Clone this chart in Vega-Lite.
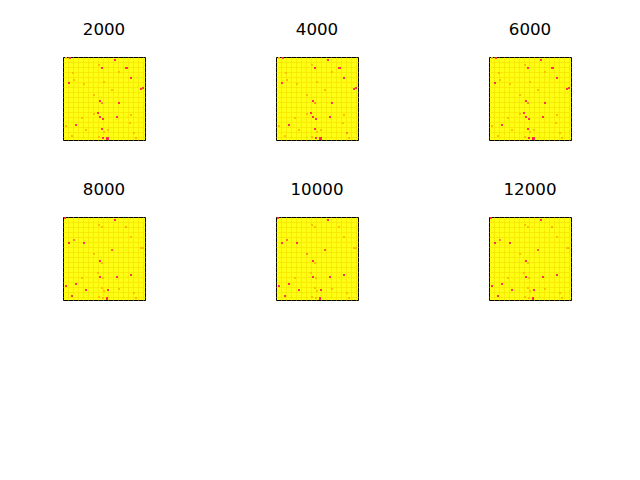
{
  "$schema": "https://vega.github.io/schema/vega-lite/v6.json",
  "background": "white",
  "padding": {"left": 62, "top": 21, "right": 5, "bottom": 5},
  "data": {"values": [
    {"t":2000,"x":7,"y":1,"v":1},{"t":2000,"x":3,"y":1,"v":0.35},{"t":2000,"x":52,"y":3,"v":1},{"t":2000,"x":36,"y":8,"v":0.35},{"t":2000,"x":39,"y":11,"v":1},{"t":2000,"x":63,"y":11,"v":1},{"t":2000,"x":64,"y":11,"v":1},{"t":2000,"x":56,"y":15,"v":0.35},{"t":2000,"x":10,"y":16,"v":0.35},{"t":2000,"x":68,"y":21,"v":1},{"t":2000,"x":11,"y":23,"v":0.35},{"t":2000,"x":6,"y":26,"v":1},{"t":2000,"x":21,"y":27,"v":0.35},{"t":2000,"x":41,"y":25,"v":0.35},{"t":2000,"x":80,"y":31,"v":1},{"t":2000,"x":78,"y":32,"v":1},{"t":2000,"x":49,"y":33,"v":0.35},{"t":2000,"x":31,"y":38,"v":0.35},{"t":2000,"x":37,"y":44,"v":1},{"t":2000,"x":39,"y":46,"v":0.6},{"t":2000,"x":56,"y":46,"v":1},{"t":2000,"x":35,"y":56,"v":1},{"t":2000,"x":31,"y":57,"v":0.35},{"t":2000,"x":68,"y":58,"v":0.35},{"t":2000,"x":37,"y":60,"v":1},{"t":2000,"x":54,"y":60,"v":1},{"t":2000,"x":40,"y":62,"v":1},{"t":2000,"x":19,"y":61,"v":0.35},{"t":2000,"x":13,"y":68,"v":1},{"t":2000,"x":67,"y":66,"v":0.35},{"t":2000,"x":3,"y":69,"v":0.35},{"t":2000,"x":39,"y":72,"v":1},{"t":2000,"x":23,"y":73,"v":0.35},{"t":2000,"x":45,"y":73,"v":0.35},{"t":2000,"x":41,"y":75,"v":0.35},{"t":2000,"x":71,"y":76,"v":0.35},{"t":2000,"x":9,"y":79,"v":0.35},{"t":2000,"x":36,"y":80,"v":0.35},{"t":2000,"x":40,"y":81,"v":1},{"t":2000,"x":44,"y":81,"v":1},{"t":2000,"x":44,"y":82,"v":1},{"t":2000,"x":45,"y":81,"v":1},{"t":2000,"x":45,"y":82,"v":1},{"t":2000,"x":73,"y":81,"v":0.35},
    {"t":4000,"x":7,"y":1,"v":1},{"t":4000,"x":3,"y":1,"v":0.35},{"t":4000,"x":52,"y":3,"v":1},{"t":4000,"x":36,"y":8,"v":0.35},{"t":4000,"x":39,"y":11,"v":1},{"t":4000,"x":63,"y":11,"v":1},{"t":4000,"x":64,"y":11,"v":1},{"t":4000,"x":56,"y":15,"v":0.35},{"t":4000,"x":10,"y":16,"v":0.35},{"t":4000,"x":68,"y":21,"v":1},{"t":4000,"x":11,"y":23,"v":0.35},{"t":4000,"x":6,"y":26,"v":1},{"t":4000,"x":21,"y":27,"v":0.35},{"t":4000,"x":41,"y":25,"v":0.35},{"t":4000,"x":80,"y":31,"v":1},{"t":4000,"x":78,"y":32,"v":1},{"t":4000,"x":49,"y":33,"v":0.35},{"t":4000,"x":31,"y":38,"v":0.35},{"t":4000,"x":37,"y":44,"v":1},{"t":4000,"x":39,"y":46,"v":0.6},{"t":4000,"x":56,"y":46,"v":1},{"t":4000,"x":35,"y":56,"v":1},{"t":4000,"x":31,"y":57,"v":0.35},{"t":4000,"x":68,"y":58,"v":0.35},{"t":4000,"x":37,"y":60,"v":1},{"t":4000,"x":54,"y":60,"v":1},{"t":4000,"x":40,"y":62,"v":1},{"t":4000,"x":19,"y":61,"v":0.35},{"t":4000,"x":13,"y":68,"v":1},{"t":4000,"x":67,"y":66,"v":0.35},{"t":4000,"x":3,"y":69,"v":0.35},{"t":4000,"x":39,"y":72,"v":1},{"t":4000,"x":23,"y":73,"v":0.35},{"t":4000,"x":45,"y":73,"v":0.35},{"t":4000,"x":41,"y":75,"v":0.35},{"t":4000,"x":71,"y":76,"v":0.6},{"t":4000,"x":9,"y":79,"v":0.35},{"t":4000,"x":36,"y":80,"v":0.35},{"t":4000,"x":40,"y":81,"v":1},{"t":4000,"x":44,"y":81,"v":1},{"t":4000,"x":44,"y":82,"v":1},{"t":4000,"x":45,"y":81,"v":1},{"t":4000,"x":45,"y":82,"v":1},{"t":4000,"x":73,"y":81,"v":0.35},
    {"t":6000,"x":7,"y":1,"v":1},{"t":6000,"x":3,"y":1,"v":0.35},{"t":6000,"x":52,"y":3,"v":1},{"t":6000,"x":36,"y":8,"v":0.35},{"t":6000,"x":39,"y":11,"v":1},{"t":6000,"x":63,"y":11,"v":1},{"t":6000,"x":64,"y":11,"v":1},{"t":6000,"x":56,"y":15,"v":0.35},{"t":6000,"x":10,"y":16,"v":0.35},{"t":6000,"x":68,"y":21,"v":1},{"t":6000,"x":11,"y":23,"v":0.35},{"t":6000,"x":6,"y":26,"v":1},{"t":6000,"x":21,"y":27,"v":0.35},{"t":6000,"x":41,"y":25,"v":0.35},{"t":6000,"x":80,"y":31,"v":1},{"t":6000,"x":78,"y":32,"v":1},{"t":6000,"x":49,"y":33,"v":0.35},{"t":6000,"x":31,"y":38,"v":0.35},{"t":6000,"x":37,"y":44,"v":1},{"t":6000,"x":39,"y":46,"v":0.6},{"t":6000,"x":56,"y":46,"v":1},{"t":6000,"x":35,"y":56,"v":1},{"t":6000,"x":31,"y":57,"v":0.35},{"t":6000,"x":68,"y":58,"v":0.35},{"t":6000,"x":37,"y":60,"v":1},{"t":6000,"x":54,"y":60,"v":1},{"t":6000,"x":40,"y":62,"v":1},{"t":6000,"x":19,"y":61,"v":0.35},{"t":6000,"x":13,"y":68,"v":1},{"t":6000,"x":67,"y":66,"v":0.35},{"t":6000,"x":3,"y":69,"v":0.35},{"t":6000,"x":39,"y":72,"v":1},{"t":6000,"x":23,"y":73,"v":0.35},{"t":6000,"x":45,"y":73,"v":0.35},{"t":6000,"x":41,"y":75,"v":0.35},{"t":6000,"x":71,"y":76,"v":0.35},{"t":6000,"x":9,"y":79,"v":0.35},{"t":6000,"x":36,"y":80,"v":0.35},{"t":6000,"x":40,"y":81,"v":1},{"t":6000,"x":44,"y":81,"v":1},{"t":6000,"x":44,"y":82,"v":1},{"t":6000,"x":45,"y":81,"v":1},{"t":6000,"x":45,"y":82,"v":1},{"t":6000,"x":73,"y":81,"v":0.35},
    {"t":8000,"x":2,"y":1,"v":1},{"t":8000,"x":52,"y":3,"v":1},{"t":8000,"x":36,"y":8,"v":0.35},{"t":8000,"x":39,"y":10,"v":0.35},{"t":8000,"x":63,"y":10,"v":0.45},{"t":8000,"x":68,"y":20,"v":0.35},{"t":8000,"x":11,"y":23,"v":0.7},{"t":8000,"x":6,"y":26,"v":1},{"t":8000,"x":21,"y":26,"v":1},{"t":8000,"x":49,"y":33,"v":0.8},{"t":8000,"x":31,"y":37,"v":0.35},{"t":8000,"x":78,"y":31,"v":0.35},{"t":8000,"x":80,"y":31,"v":0.35},{"t":8000,"x":37,"y":44,"v":1},{"t":8000,"x":39,"y":46,"v":0.35},{"t":8000,"x":35,"y":56,"v":0.35},{"t":8000,"x":37,"y":60,"v":1},{"t":8000,"x":40,"y":61,"v":0.35},{"t":8000,"x":54,"y":60,"v":1},{"t":8000,"x":68,"y":58,"v":1},{"t":8000,"x":19,"y":61,"v":0.35},{"t":8000,"x":13,"y":67,"v":1},{"t":8000,"x":3,"y":69,"v":1},{"t":8000,"x":23,"y":73,"v":1},{"t":8000,"x":45,"y":73,"v":1},{"t":8000,"x":39,"y":71,"v":0.35},{"t":8000,"x":56,"y":72,"v":0.35},{"t":8000,"x":41,"y":74,"v":0.35},{"t":8000,"x":71,"y":76,"v":0.35},{"t":8000,"x":9,"y":79,"v":1},{"t":8000,"x":36,"y":80,"v":0.35},{"t":8000,"x":40,"y":81,"v":0.35},{"t":8000,"x":44,"y":81,"v":1},{"t":8000,"x":44,"y":82,"v":1},{"t":8000,"x":73,"y":81,"v":0.35},
    {"t":10000,"x":2,"y":1,"v":1},{"t":10000,"x":52,"y":3,"v":1},{"t":10000,"x":36,"y":8,"v":0.35},{"t":10000,"x":39,"y":10,"v":0.35},{"t":10000,"x":63,"y":10,"v":0.35},{"t":10000,"x":68,"y":20,"v":0.35},{"t":10000,"x":11,"y":23,"v":0.7},{"t":10000,"x":6,"y":26,"v":1},{"t":10000,"x":21,"y":26,"v":1},{"t":10000,"x":49,"y":33,"v":0.8},{"t":10000,"x":31,"y":37,"v":0.6},{"t":10000,"x":78,"y":31,"v":0.35},{"t":10000,"x":80,"y":31,"v":0.35},{"t":10000,"x":37,"y":44,"v":1},{"t":10000,"x":39,"y":46,"v":0.35},{"t":10000,"x":35,"y":56,"v":0.35},{"t":10000,"x":37,"y":60,"v":1},{"t":10000,"x":40,"y":61,"v":0.35},{"t":10000,"x":54,"y":60,"v":1},{"t":10000,"x":68,"y":58,"v":1},{"t":10000,"x":19,"y":61,"v":0.35},{"t":10000,"x":13,"y":67,"v":1},{"t":10000,"x":3,"y":69,"v":1},{"t":10000,"x":23,"y":73,"v":1},{"t":10000,"x":45,"y":73,"v":1},{"t":10000,"x":39,"y":71,"v":0.35},{"t":10000,"x":56,"y":72,"v":0.35},{"t":10000,"x":41,"y":74,"v":0.35},{"t":10000,"x":71,"y":76,"v":0.35},{"t":10000,"x":9,"y":79,"v":1},{"t":10000,"x":36,"y":80,"v":0.35},{"t":10000,"x":40,"y":81,"v":0.35},{"t":10000,"x":44,"y":81,"v":1},{"t":10000,"x":44,"y":82,"v":1},{"t":10000,"x":73,"y":81,"v":0.35},
    {"t":12000,"x":2,"y":1,"v":1},{"t":12000,"x":52,"y":3,"v":1},{"t":12000,"x":36,"y":8,"v":0.35},{"t":12000,"x":39,"y":10,"v":0.35},{"t":12000,"x":63,"y":10,"v":0.45},{"t":12000,"x":68,"y":20,"v":0.35},{"t":12000,"x":11,"y":23,"v":0.7},{"t":12000,"x":6,"y":26,"v":1},{"t":12000,"x":21,"y":26,"v":1},{"t":12000,"x":49,"y":33,"v":0.8},{"t":12000,"x":31,"y":37,"v":0.35},{"t":12000,"x":78,"y":31,"v":0.35},{"t":12000,"x":80,"y":31,"v":0.35},{"t":12000,"x":37,"y":44,"v":1},{"t":12000,"x":39,"y":46,"v":0.35},{"t":12000,"x":35,"y":56,"v":0.35},{"t":12000,"x":37,"y":60,"v":1},{"t":12000,"x":40,"y":61,"v":0.35},{"t":12000,"x":54,"y":60,"v":1},{"t":12000,"x":68,"y":58,"v":1},{"t":12000,"x":19,"y":61,"v":0.35},{"t":12000,"x":13,"y":67,"v":1},{"t":12000,"x":3,"y":69,"v":1},{"t":12000,"x":23,"y":73,"v":1},{"t":12000,"x":45,"y":73,"v":1},{"t":12000,"x":39,"y":71,"v":0.35},{"t":12000,"x":56,"y":72,"v":0.35},{"t":12000,"x":41,"y":74,"v":0.35},{"t":12000,"x":71,"y":76,"v":0.35},{"t":12000,"x":9,"y":79,"v":1},{"t":12000,"x":36,"y":80,"v":0.35},{"t":12000,"x":40,"y":81,"v":0.35},{"t":12000,"x":44,"y":81,"v":1},{"t":12000,"x":44,"y":82,"v":1},{"t":12000,"x":73,"y":81,"v":0.35}
  ]},
  "facet": {"field": "t", "type": "ordinal", "sort": "ascending",
    "header": {"title": null, "labelFont": "DejaVu Sans", "labelFontSize": 16.7, "labelColor": "black", "labelPadding": 5, "labelBaseline": "alphabetic"}},
  "columns": 3,
  "spacing": {"column": 129, "row": 40},
  "spec": {
    "width": 82,
    "height": 83,
    "view": {"fill": "#ffff14", "stroke": "black", "strokeWidth": 1},
    "mark": {"type": "square", "size": 3.5, "opacity": 1, "strokeWidth": 0},
    "encoding": {
      "x": {"field": "x", "type": "quantitative", "scale": {"domain": [0, 82], "nice": false, "zero": false},
        "axis": {"title": null, "labels": false, "ticks": false, "domain": false, "grid": true, "values": [5,10,15,20,25,30,35,40,45,50,55,60,65,70,75,80], "gridColor": "#f5e400", "gridWidth": 1, "gridOpacity": 0.75}},
      "y": {"field": "y", "type": "quantitative", "scale": {"domain": [0, 83], "nice": false, "zero": false, "reverse": true},
        "axis": {"title": null, "labels": false, "ticks": false, "domain": false, "grid": true, "values": [5,10,15,20,25,30,35,40,45,50,55,60,65,70,75,80], "gridColor": "#f5e400", "gridWidth": 1, "gridOpacity": 0.75}},
      "color": {"field": "v", "type": "quantitative", "scale": {"domain": [0, 1], "range": ["#ffff14", "#ff2a50"]}, "legend": null}
    }
  }
}
